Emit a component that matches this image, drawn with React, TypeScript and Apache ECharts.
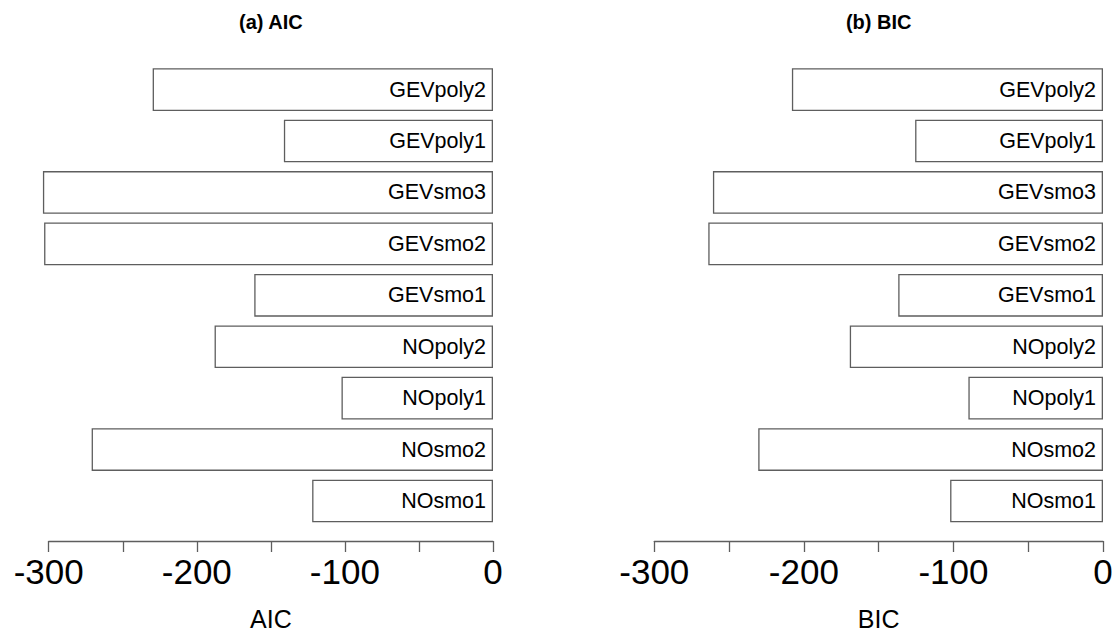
import React, { useEffect, useRef } from "react";
import * as echarts from "echarts";

const categories = [
  "NOsmo1",
  "NOsmo2",
  "NOpoly1",
  "NOpoly2",
  "GEVsmo1",
  "GEVsmo2",
  "GEVsmo3",
  "GEVpoly1",
  "GEVpoly2",
];
const aicValues = [-122.1, -271.0, -102.3, -188.0, -161.2, -303.1, -303.9, -141.2, -229.8];
const bicValues = [-102.2, -230.5, -90.0, -169.3, -136.9, -263.9, -260.8, -125.6, -208.0];
const xTicks = { min: -300, max: 0, interval: 50, labelEvery: 100 };

const FONT = "'Liberation Sans', Arial, sans-serif";
const LINE = "#5e5e5e";

export default function App() {
  const ref = useRef<HTMLDivElement>(null);
  useEffect(() => {
    if (!ref.current) return;
    const chart = echarts.init(ref.current, null, { renderer: "svg" });
    const grids = [
      { left: 48.7, width: 444.3, top: 63.9, height: 469.8 },
      { left: 654.3, width: 448.7, top: 63.9, height: 469.8 },
    ];
    const names = ["AIC", "BIC"];
    const titles = ["(a) AIC", "(b) BIC"];
    const xAxis = grids.map((_, i) => ({
      type: "value",
      gridIndex: i,
      min: xTicks.min,
      max: xTicks.max,
      interval: xTicks.interval,
      offset: 14.3,
      name: names[i],
      nameLocation: "middle",
      nameGap: 65,
      nameTextStyle: { fontSize: 25, color: "#000", fontFamily: FONT },
      axisLine: { show: true, onZero: false, lineStyle: { color: LINE, width: 1.3 } },
      axisTick: { show: true, length: 11, lineStyle: { color: LINE, width: 1.3 } },
      splitLine: { show: false },
      axisLabel: {
        fontSize: 35,
        color: "#000",
        fontFamily: FONT,
        margin: 13,
        showMinLabel: true,
        showMaxLabel: true,
        formatter: (v: number) => (v % xTicks.labelEvery === 0 ? String(v) : ""),
      },
    }));
    const yAxis = grids.map((_, i) => ({
      type: "category",
      gridIndex: i,
      data: categories,
      position: "right",
      z: 10,
      axisLine: { show: false },
      axisTick: { show: false },
      splitLine: { show: false },
      axisLabel: {
        inside: true,
        margin: 7,
        fontSize: 21.5,
        color: "#000",
        fontFamily: FONT,
      },
    }));
    const series = [aicValues, bicValues].map((vals, i) => ({
      type: "bar",
      xAxisIndex: i,
      yAxisIndex: i,
      data: vals,
      clip: false,
      barCategoryGap: "17%",
      itemStyle: { color: "#ffffff", borderColor: LINE, borderWidth: 1.3 },
      emphasis: { disabled: true },
    }));
    const graphic = titles.map((t, i) => ({
      type: "text",
      x: grids[i].left + grids[i].width / 2,
      y: 22,
      style: {
        text: t,
        fontSize: 20,
        fontWeight: "bold",
        fill: "#000",
        fontFamily: FONT,
        textAlign: "center",
        textVerticalAlign: "middle",
      },
    }));
    chart.setOption({
      animation: false,
      backgroundColor: "#ffffff",
      grid: grids,
      xAxis,
      yAxis,
      series,
      graphic,
    });
    return () => chart.dispose();
  }, []);
  return (
    <div
      ref={ref}
      style={{ position: "fixed", left: 0, top: 0, width: 1117, height: 636, background: "#fff" }}
    />
  );
}
